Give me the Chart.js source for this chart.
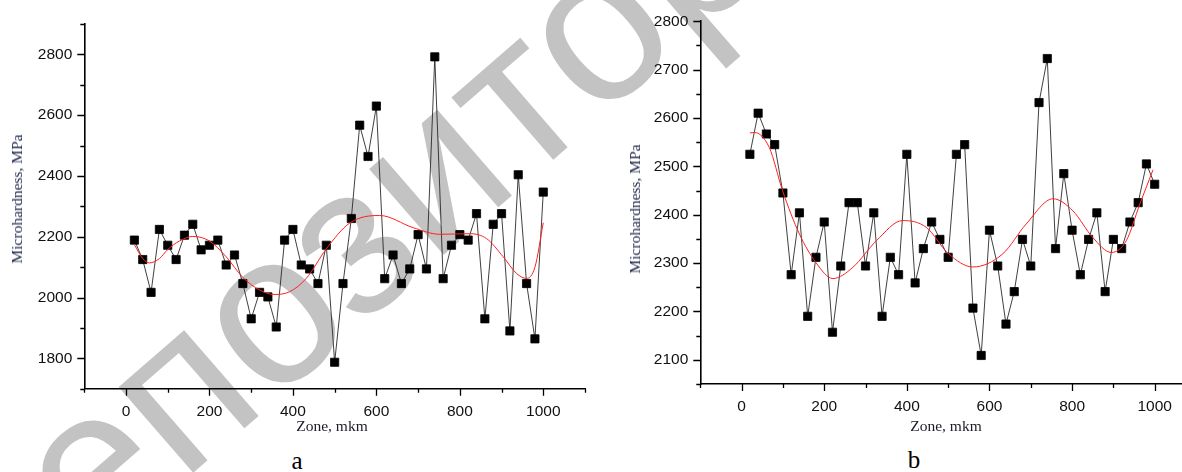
<!DOCTYPE html>
<html>
<head>
<meta charset="utf-8">
<script src="https://cdn.jsdelivr.net/npm/chart.js@4.4.1/dist/chart.umd.min.js"></script>
<style>
  html, body { margin: 0; padding: 0; background: #fff; }
  body { position: relative; width: 1182px; height: 472px; overflow: hidden; }
  #marca {
    position: absolute; left: -118px; top: 502px; z-index: 0;
    font: 215px 'Liberation Sans', Arial, sans-serif; line-height: 1;
    color: #c3c3c3; white-space: nowrap;
    transform: rotate(-41deg); transform-origin: 0 0;
  }
  canvas { position: absolute; top: 0; z-index: 1; }
  #grafico-a { left: 0; }
  #grafico-b { left: 616px; }
  .texto { position: absolute; z-index: 2; white-space: nowrap; transform: translate(-50%, -50%); font-family: 'Liberation Serif', 'Times New Roman', serif; }
  .titulo-x { font-size: 15.5px; color: #1c1c2a; }
  .titulo-y { font-size: 15.5px; color: #1b2447; transform: translate(-50%, -50%) rotate(-90deg); }
  .painel { font-size: 25px; color: #000; }
</style>
</head>
<body>
<div id="marca">репозиторий</div>
<canvas id="grafico-a" width="600" height="430"></canvas>
<canvas id="grafico-b" width="600" height="430"></canvas>

<div class="texto titulo-x" style="left:332px; top:426px;">Zone, mkm</div>
<div class="texto titulo-x" style="left:946px; top:426px;">Zone, mkm</div>
<div class="texto titulo-y" style="left:17px; top:199px;">Microhardness, MPa</div>
<div class="texto titulo-y" style="left:635px; top:209px;">Microhardness, MPa</div>
<div class="texto painel" style="left:297px; top:461px;">a</div>
<div class="texto painel" style="left:914px; top:460px;">b</div>

<script>
// Dados
const zonas = [20, 40, 60, 80, 100, 120, 140, 160, 180, 200,
  220, 240, 260, 280, 300, 320, 340, 360, 380, 400,
  420, 440, 460, 480, 500, 520, 540, 560, 580, 600,
  620, 640, 660, 680, 700, 720, 740, 760, 780, 800,
  820, 840, 860, 880, 900, 920, 940, 960, 980, 1000];

const durezaA = [2189, 2125, 2017, 2224, 2172, 2125, 2205, 2241, 2157, 2172,
  2189, 2107, 2140, 2046, 1930, 2017, 2002, 1903, 2189, 2224,
  2107, 2094, 2046, 2172, 1787, 2046, 2260, 2567, 2464, 2630,
  2062, 2140, 2046, 2094, 2207, 2094, 2792, 2062, 2172, 2207,
  2189, 2276, 1930, 2241, 2276, 1890, 2404, 2046, 1864, 2347];

const durezaB = [2525, 2610, 2567, 2545, 2445, 2276, 2404, 2190, 2312, 2385,
  2157, 2294, 2425, 2425, 2294, 2404, 2190, 2312, 2276, 2525,
  2259, 2330, 2385, 2349, 2312, 2525, 2545, 2207, 2109, 2368,
  2294, 2174, 2241, 2349, 2294, 2632, 2723, 2330, 2485, 2368,
  2276, 2349, 2404, 2241, 2349, 2330, 2385, 2425, 2505, 2463];

// Curvas de ajuste (vermelhas)
const ajusteAx = [20, 40, 56, 80, 100, 128, 160, 200, 240, 280, 320, 355, 392, 432, 480, 536, 608, 688, 752, 824, 864, 904, 936, 960, 980, 1000];
const ajusteAy = [2174, 2128, 2114, 2128, 2158, 2186, 2201, 2186, 2134, 2066, 2025, 2010, 2019, 2063, 2160, 2245, 2270, 2230, 2208, 2210, 2194, 2134, 2079, 2063, 2100, 2246];
const ajusteBx = [20, 31, 67, 99, 140, 180, 221, 269, 326, 390, 447, 500, 560, 632, 689, 754, 802, 850, 895, 931, 964, 996];
const ajusteBy = [2569, 2570, 2539, 2450, 2360, 2301, 2268, 2291, 2346, 2388, 2374, 2320, 2292, 2319, 2381, 2433, 2408, 2353, 2322, 2346, 2422, 2493];

// Rótulos dos eixos
const rotulosX = [0, 200, 400, 600, 800, 1000];
const rotulosYA = [1800, 2000, 2200, 2400, 2600, 2800];
const rotulosYB = [2100, 2200, 2300, 2400, 2500, 2600, 2700, 2800];

const juntar = (xs, ys) => xs.map((x, i) => ({ x, y: ys[i] }));

// Marcas dos eixos (maiores nos rótulos, menores entre eles)
const marcasEixos = {
  id: 'marcasEixos',
  afterDraw(chart, args, opts) {
    const { ctx, chartArea } = chart;
    const sx = chart.scales.x, sy = chart.scales.y;
    ctx.save();
    ctx.strokeStyle = '#000';
    ctx.lineWidth = 1.3;
    ctx.beginPath();
    sx.ticks.forEach(t => {
      const px = Math.round(sx.getPixelForValue(t.value)) + 0.5;
      const len = opts.rotX.includes(t.value) ? 7 : 4;
      ctx.moveTo(px, chartArea.bottom);
      ctx.lineTo(px, chartArea.bottom + len);
    });
    sy.ticks.forEach(t => {
      const py = Math.round(sy.getPixelForValue(t.value)) + 0.5;
      const len = opts.rotY.includes(t.value) ? 7 : 4;
      ctx.moveTo(chartArea.left, py);
      ctx.lineTo(chartArea.left - len, py);
    });
    ctx.stroke();
    ctx.restore();
  }
};

function criarGrafico(id, c) {
  const fonteTick = { family: "'Liberation Sans', Arial, sans-serif", size: 15.5 };
  return new Chart(document.getElementById(id), {
    type: 'scatter',
    data: {
      datasets: [
        {
          data: juntar(c.ajusteX, c.ajusteY),
          showLine: true,
          borderColor: '#ff2020',
          borderWidth: 1,
          pointRadius: 0,
          cubicInterpolationMode: 'monotone',
          order: 0
        },
        {
          data: juntar(zonas, c.dureza),
          showLine: true,
          borderColor: '#2a2a2a',
          borderWidth: 0.9,
          pointStyle: 'rect',
          pointRadius: 5.8,
          pointBackgroundColor: '#000',
          pointBorderColor: '#000',
          pointBorderWidth: 0.8,
          order: 1
        }
      ]
    },
    options: {
      responsive: false,
      animation: false,
      events: [],
      layout: { padding: { top: c.topo, right: c.direita, left: 0, bottom: 0 } },
      plugins: {
        legend: { display: false },
        tooltip: { enabled: false },
        marcasEixos: { rotX: rotulosX, rotY: c.rotulosY }
      },
      scales: {
        x: {
          type: 'linear', min: -100, max: 1100,
          grid: { display: false, drawTicks: false },
          border: { display: true, color: '#000', width: 1.6 },
          ticks: {
            stepSize: 100, maxTicksLimit: 30, autoSkip: false, maxRotation: 0,
            padding: c.padX, color: '#111', font: fonteTick,
            callback: v => rotulosX.includes(v) ? String(v) : ''
          },
          afterFit: s => { s.height = c.alturaX; }
        },
        y: {
          type: 'linear', min: c.yMin, max: c.yMax,
          grid: { display: false, drawTicks: false },
          border: { display: true, color: '#000', width: 1.6 },
          ticks: {
            stepSize: c.passoY, maxTicksLimit: 30, autoSkip: false,
            padding: 12, color: '#111', font: fonteTick,
            callback: v => c.rotulosY.includes(v) ? String(v) : ''
          },
          afterFit: s => { s.width = 84.3; }
        }
      }
    },
    plugins: [marcasEixos]
  });
}

criarGrafico('grafico-a', {
  dureza: durezaA, ajusteX: ajusteAx, ajusteY: ajusteAy,
  yMin: 1700, yMax: 2900, passoY: 100, rotulosY: rotulosYA,
  topo: 24, direita: 15, alturaX: 41.3, padX: 14
});

criarGrafico('grafico-b', {
  dureza: durezaB, ajusteX: ajusteBx, ajusteY: ajusteBy,
  yMin: 2050, yMax: 2800, passoY: 50, rotulosY: rotulosYB,
  topo: 20.7, direita: 20, alturaX: 46, padX: 13
});
</script>
</body>
</html>
